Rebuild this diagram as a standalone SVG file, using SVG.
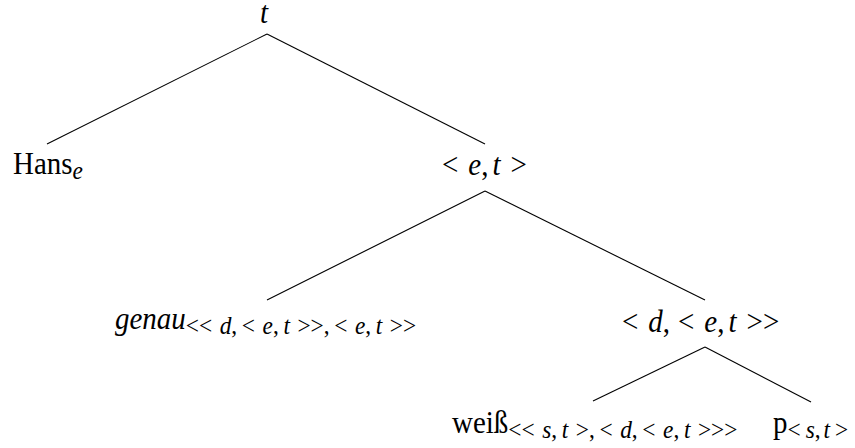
<svg xmlns="http://www.w3.org/2000/svg" width="855" height="448" viewBox="0 0 855 448">
<style>
text{font-family:"Liberation Serif","Times New Roman",serif;font-size:31px;fill:#000}
.i{font-style:italic}
.s{font-size:25px}
line{stroke:#000;stroke-width:1.1}
</style>
<rect width="855" height="448" fill="#fff"/>
<g id="connectors">
<line x1="267" y1="34" x2="47" y2="144"/>
<line x1="267" y1="34" x2="485" y2="144"/>
<line x1="485" y1="191" x2="267" y2="300"/>
<line x1="485" y1="191" x2="705" y2="300"/>
<line x1="705" y1="347" x2="593" y2="401"/>
<line x1="705" y1="347" x2="811" y2="402"/>
</g>
<g id="n-root"><text transform="translate(264,23) scale(0.935,1)" text-anchor="middle" class="i">t</text></g>
<g id="n-hans"><text transform="translate(13,174) scale(0.935,1)">Hans<tspan class="i s" dy="5">e</tspan></text></g>
<g id="n-et"><text transform="translate(442,175) scale(0.935,1)">&lt;<tspan class="i" dx="10.7">e</tspan>,<tspan class="i" dx="4.3">t</tspan><tspan dx="10.7">&gt;</tspan></text></g>
<g id="n-genau"><text transform="translate(115,329) scale(0.935,1)"><tspan class="i">genau</tspan><tspan class="s" dy="5">&lt;&lt;<tspan class="i" dx="8">d</tspan>,<tspan dx="5">&lt;</tspan><tspan class="i" dx="8">e</tspan>,<tspan class="i" dx="5">t</tspan><tspan dx="8">&gt;&gt;</tspan>,<tspan dx="5">&lt;</tspan><tspan class="i" dx="8">e</tspan>,<tspan class="i" dx="5">t</tspan><tspan dx="8">&gt;&gt;</tspan></tspan></text></g>
<g id="n-det"><text transform="translate(622,332) scale(0.935,1)">&lt;<tspan class="i" dx="10.7">d</tspan>,<tspan dx="8.5">&lt;</tspan><tspan class="i" dx="10.7">e</tspan>,<tspan class="i" dx="4.3">t</tspan><tspan dx="10.7">&gt;&gt;</tspan></text></g>
<g id="n-weiss"><text transform="translate(452,433) scale(0.935,1)">weiß<tspan class="s" dy="5">&lt;&lt;<tspan class="i" dx="8">s</tspan>,<tspan class="i" dx="5">t</tspan><tspan dx="8">&gt;</tspan>,<tspan dx="5">&lt;</tspan><tspan class="i" dx="8">d</tspan>,<tspan dx="5">&lt;</tspan><tspan class="i" dx="8">e</tspan>,<tspan class="i" dx="5">t</tspan><tspan dx="8">&gt;&gt;&gt;</tspan></tspan></text></g>
<g id="n-p"><text transform="translate(773,433) scale(0.935,1)">p<tspan class="s" dy="5">&lt;<tspan class="i" dx="5.3">s</tspan>,<tspan class="i" dx="3.2">t</tspan><tspan dx="5.3">&gt;</tspan></tspan></text></g>
</svg>
